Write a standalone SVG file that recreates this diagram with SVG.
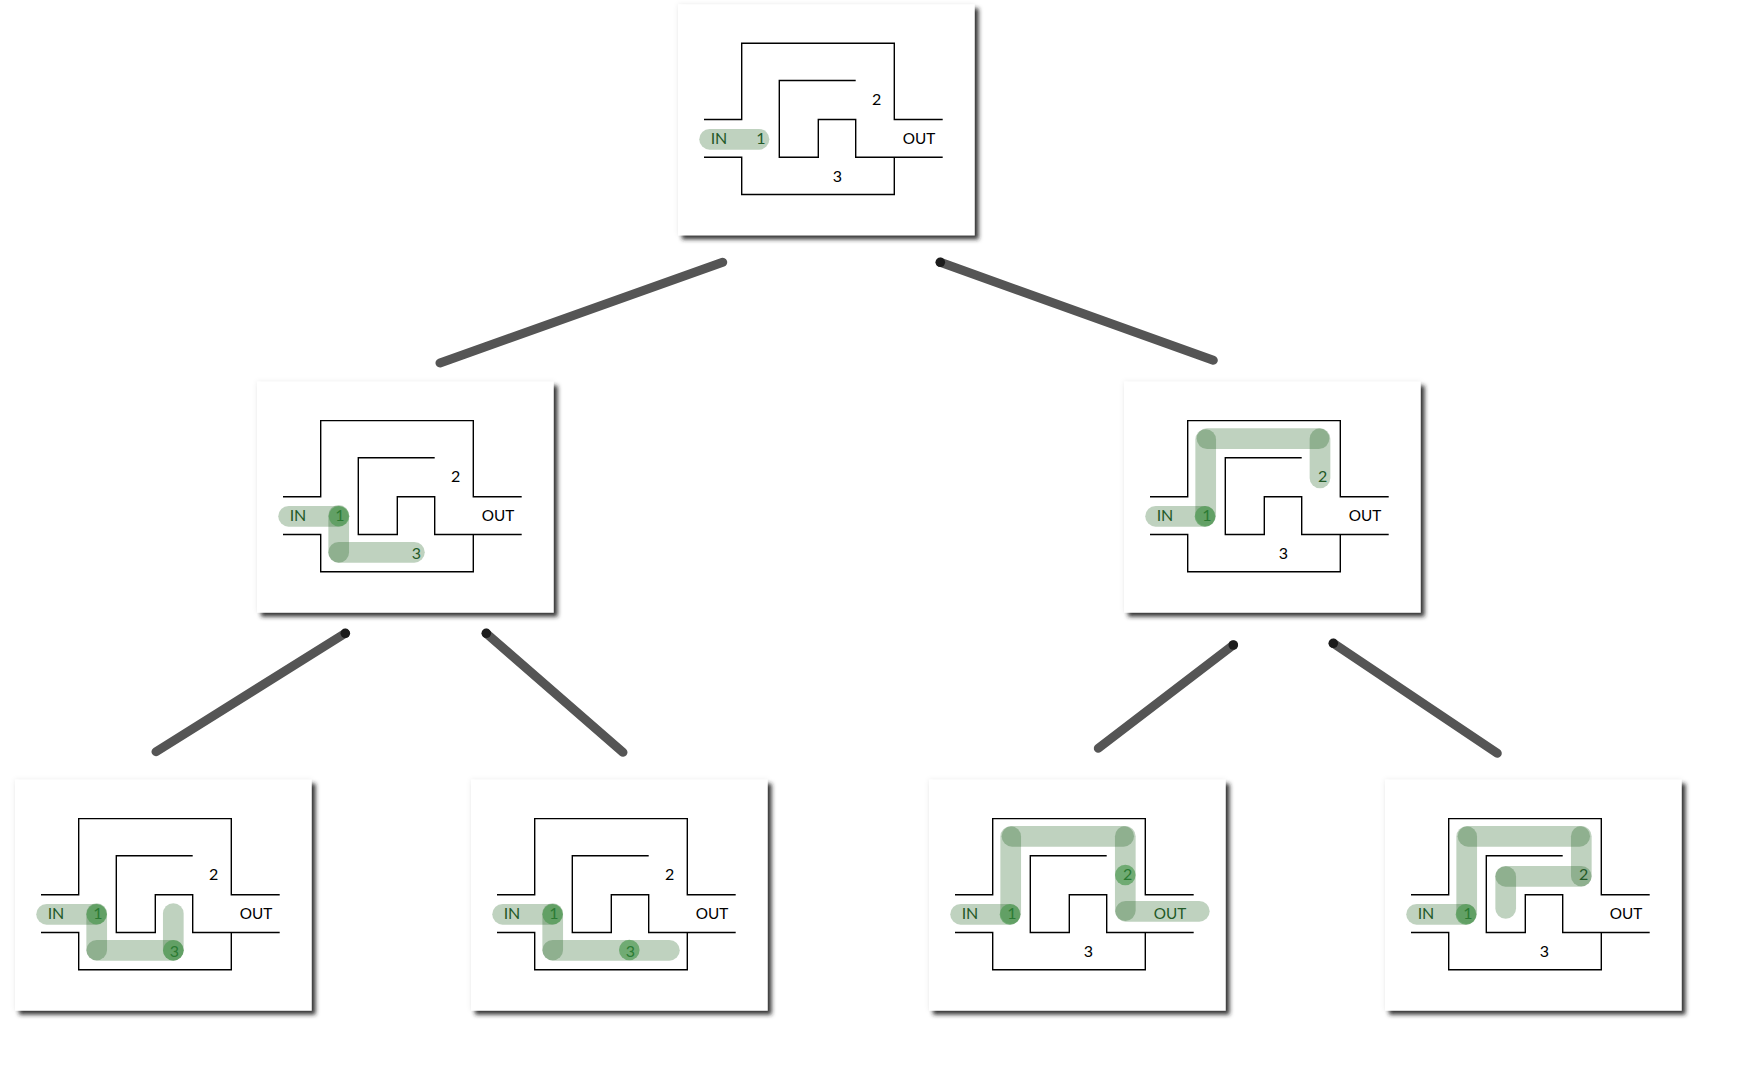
<svg xmlns="http://www.w3.org/2000/svg" width="1760" height="1073" viewBox="0 0 1760 1073">
<style>
.card{fill:#fff;filter:url(#sh)}
.wall{fill:none;stroke:#000;stroke-width:1.4}
.hl{fill:none;stroke:#004c00;stroke-opacity:.25;stroke-width:20.7;stroke-linecap:round}
.dot{fill:#4f9a52;fill-opacity:.7}
text{font-family:Lato,"Noto Sans","Open Sans",sans-serif;font-size:16px;text-anchor:middle;fill:#000}
text.o{font-size:15.3px}
text.g{fill:#245a28}
text.d{fill:#2b7a33}
.conn{stroke:#555;stroke-width:9;stroke-linecap:round;fill:none}
.cap{fill:#1c1c1c}
</style>
<defs>
<filter id="sh" x="-6%" y="-6%" width="114%" height="114%">
<feGaussianBlur in="SourceAlpha" stdDeviation="2.5" result="a"/>
<feFlood flood-color="#000" flood-opacity=".08"/><feComposite in2="a" operator="in" result="halo"/>
<feGaussianBlur in="SourceAlpha" stdDeviation="2.2" result="b"/>
<feOffset in="b" dx="3.5" dy="3.5" result="c"/>
<feFlood flood-color="#222" flood-opacity=".9"/><feComposite in2="c" operator="in" result="shadow"/>
<feMerge><feMergeNode in="halo"/><feMergeNode in="shadow"/><feMergeNode in="SourceGraphic"/></feMerge>
</filter>
<g id="maze">
<path class="wall" d="M26 115.2H63.7V39H216.3V115.2H264.7"/>
<path class="wall" d="M26 152.9H63.7V190.2H216.3V152.9"/>
<path class="wall" d="M177.7 76.2H101.3V152.9H140.3V115.2H177.7V152.9H264.7"/>
</g>
</defs>
<g id="connectors">
<path class="conn" d="M722.7 262.3L440 363"/>
<path class="conn" d="M940.3 262.3L1213.3 360.3"/><circle class="cap" cx="940.3" cy="262.3" r="4.8"/>
<path class="conn" d="M345.3 633.3L156 751.7"/><circle class="cap" cx="345.3" cy="633.3" r="4.8"/>
<path class="conn" d="M486.3 633.3L623 752.3"/><circle class="cap" cx="486.3" cy="633.3" r="4.8"/>
<path class="conn" d="M1233.3 645L1098.3 748.3"/><circle class="cap" cx="1233.3" cy="645" r="4.8"/>
<path class="conn" d="M1333.3 643.3L1497.3 753.3"/><circle class="cap" cx="1333.3" cy="643.3" r="4.8"/>
</g>
<g id="node-root" transform="translate(678 4.3)">
<rect class="card" width="296.6" height="231"/><use href="#maze"/>
<path class="hl" d="M31.6 135H81"/>
<text class="g" x="41" y="139.5">IN</text><text class="g" x="83" y="139.5">1</text><text x="198.7" y="100.5">2</text><text x="159.3" y="177.3">3</text><text class="o" x="241" y="139.5">OUT</text>
</g>
<g id="node-left" transform="translate(257 381.6)">
<rect class="card" width="296.6" height="231"/><use href="#maze"/>
<path class="hl" d="M31.6 134.7H81"/><path class="hl" d="M81.7 133.7V170.8"/><path class="hl" d="M81.6 170.7H157.4"/>
<circle class="dot" cx="82" cy="134.6" r="10.3"/>
<text class="g" x="41" y="139.5">IN</text><text class="d" x="83" y="139.5">1</text><text x="198.7" y="100.5">2</text><text class="g" x="159.3" y="177.3">3</text><text class="o" x="241" y="139.5">OUT</text>
</g>
<g id="node-right" transform="translate(1124 381.6)">
<rect class="card" width="296.6" height="231"/><use href="#maze"/>
<path class="hl" d="M31.6 134.7H81"/><path class="hl" d="M81.7 134V57.9"/><path class="hl" d="M83 57H195"/><path class="hl" d="M196 57.1V96.4"/>
<circle class="dot" cx="81" cy="134.8" r="10.3"/>
<text class="g" x="41" y="139.5">IN</text><text class="d" x="83" y="139.5">1</text><text class="g" x="198.7" y="100.5">2</text><text x="159.3" y="177.3">3</text><text class="o" x="241" y="139.5">OUT</text>
</g>
<g id="node-ll" transform="translate(15 779.6)">
<rect class="card" width="296.6" height="231"/><use href="#maze"/>
<path class="hl" d="M31.6 134.7H81"/><path class="hl" d="M81.7 134V170.4"/><path class="hl" d="M81.7 170.7H158.4"/><path class="hl" d="M158.3 134V170.7"/>
<circle class="dot" cx="81.7" cy="134.6" r="10.3"/><circle class="dot" cx="158.3" cy="170.7" r="10.3"/>
<text class="g" x="41" y="139.5">IN</text><text class="d" x="83" y="139.5">1</text><text x="198.7" y="100.5">2</text><text class="d" x="159.3" y="177.3">3</text><text class="o" x="241" y="139.5">OUT</text>
</g>
<g id="node-lr" transform="translate(471 779.6)">
<rect class="card" width="296.6" height="231"/><use href="#maze"/>
<path class="hl" d="M31.6 134.7H81"/><path class="hl" d="M81.7 134V170.4"/><path class="hl" d="M81.7 170.7H198.4"/>
<circle class="dot" cx="81.7" cy="134.6" r="10.3"/><circle class="dot" cx="158.3" cy="170.4" r="10.3"/>
<text class="g" x="41" y="139.5">IN</text><text class="d" x="83" y="139.5">1</text><text x="198.7" y="100.5">2</text><text class="d" x="159.3" y="177.3">3</text><text class="o" x="241" y="139.5">OUT</text>
</g>
<g id="node-rl" transform="translate(929 779.6)">
<rect class="card" width="296.6" height="231"/><use href="#maze"/>
<path class="hl" d="M31.6 134.7H81"/><path class="hl" d="M81.7 134V57"/><path class="hl" d="M83 56.7H194.7"/><path class="hl" d="M196.3 56.7V131"/><path class="hl" d="M196.6 131.7H270.3"/>
<circle class="dot" cx="81" cy="134.8" r="10.3"/><circle class="dot" cx="196.3" cy="95.4" r="10.3"/>
<text class="g" x="41" y="139.5">IN</text><text class="d" x="83" y="139.5">1</text><text class="d" x="198.7" y="100.5">2</text><text x="159.3" y="177.3">3</text><text class="o g" x="241" y="139.5">OUT</text>
</g>
<g id="node-rr" transform="translate(1385 779.6)">
<rect class="card" width="296.6" height="231"/><use href="#maze"/>
<path class="hl" d="M31.6 134.7H81"/><path class="hl" d="M81.7 134V57"/><path class="hl" d="M83 56.7H194.7"/><path class="hl" d="M196.3 56.7V96.4"/><path class="hl" d="M196.3 96.7H120.6"/><path class="hl" d="M120.7 97V128.8"/>
<circle class="dot" cx="81" cy="134.8" r="10.3"/>
<text class="g" x="41" y="139.5">IN</text><text class="d" x="83" y="139.5">1</text><text class="g" x="198.7" y="100.5">2</text><text x="159.3" y="177.3">3</text><text class="o" x="241" y="139.5">OUT</text>
</g>
</svg>
